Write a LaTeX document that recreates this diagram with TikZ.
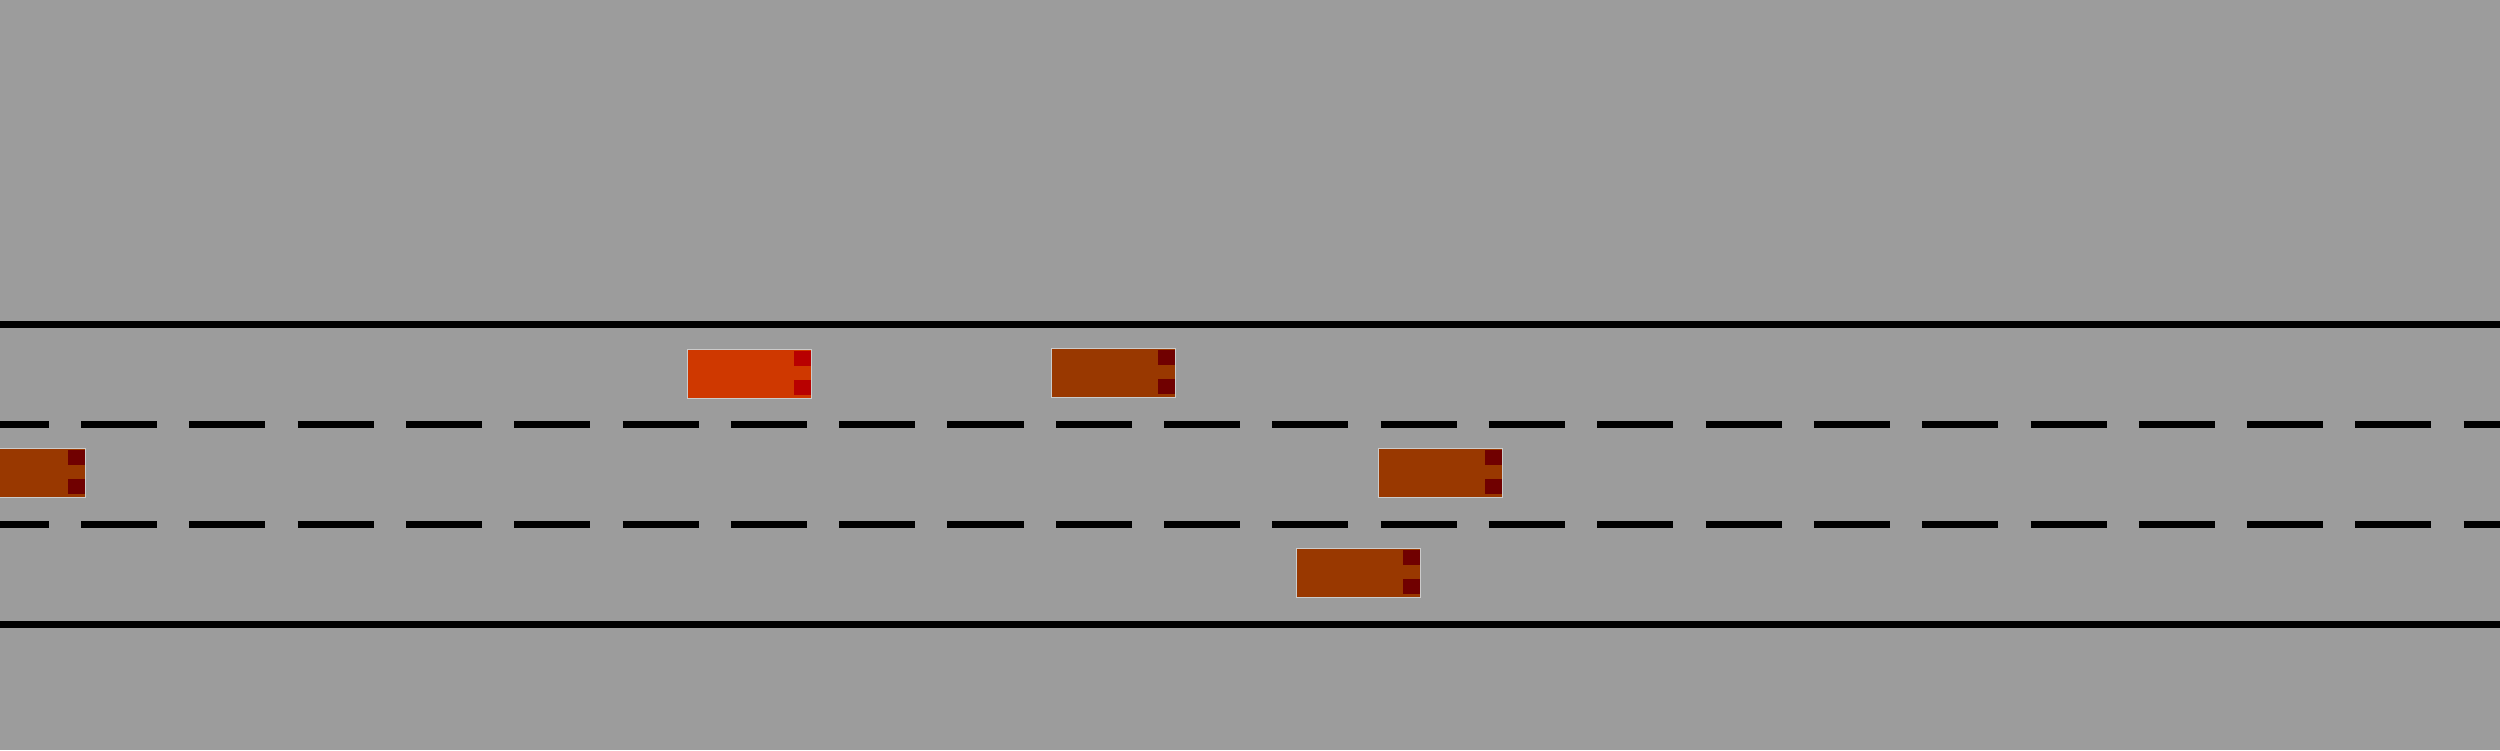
\documentclass[tikz,border=0pt]{standalone}
\usepackage{xcolor}
\usepackage{tikz}
\usetikzlibrary{positioning}
\definecolor{asphalt}{HTML}{9C9C9C}
\definecolor{ego}{HTML}{CF3800}
\definecolor{egolamp}{HTML}{B80000}
\definecolor{other}{HTML}{993800}
\definecolor{otherlamp}{HTML}{700000}
\definecolor{rim}{HTML}{CBCBCB}

\begin{document}
\begin{tikzpicture}[x=0.01cm, y=-0.01cm,
  car/.style={rectangle, draw=rim, line width=0.4pt, minimum width=1.24cm, minimum height=0.494cm, inner sep=0pt, outer sep=0pt},
  lamp/.style={rectangle, minimum width=0.17cm, minimum height=0.15cm, inner sep=0pt, outer sep=0pt},
  roadedge/.style={line width=0.07cm},
  lanemark/.style={line width=0.07cm, dash pattern=on 0.76cm off 0.3224cm, dash phase=0.2724cm}]
\useasboundingbox (0,0) rectangle (2500,750);
\clip (0,0) rectangle (2500,750);
\fill[asphalt] (0,0) rectangle (2500,750);
% road borders and lane markings
\draw[roadedge] (0,324.5) -- (2500,324.5);
\draw[roadedge] (0,624.5) -- (2500,624.5);
\draw[lanemark] (0,424.5) -- (2500,424.5);
\draw[lanemark] (0,524.5) -- (2500,524.5);
% vehicles
\foreach \n/\px/\py/\body/\lampc in {ego/749.5/374/ego/egolamp, a/1113.5/373/other/otherlamp, b/23.5/473/other/otherlamp, c/1440.5/473/other/otherlamp, d/1358.5/573/other/otherlamp} {
  \node[car, fill=\body] (car\n) at (\px,\py) {};
  \node[lamp, fill=\lampc, anchor=north east] (lampl\n) at ([shift={(-1,1.7)}]car\n.north east) {};
  \node[lamp, fill=\lampc, anchor=south east] (lampr\n) at ([shift={(-1,-3.7)}]car\n.south east) {};
}
\end{tikzpicture}
\end{document}
